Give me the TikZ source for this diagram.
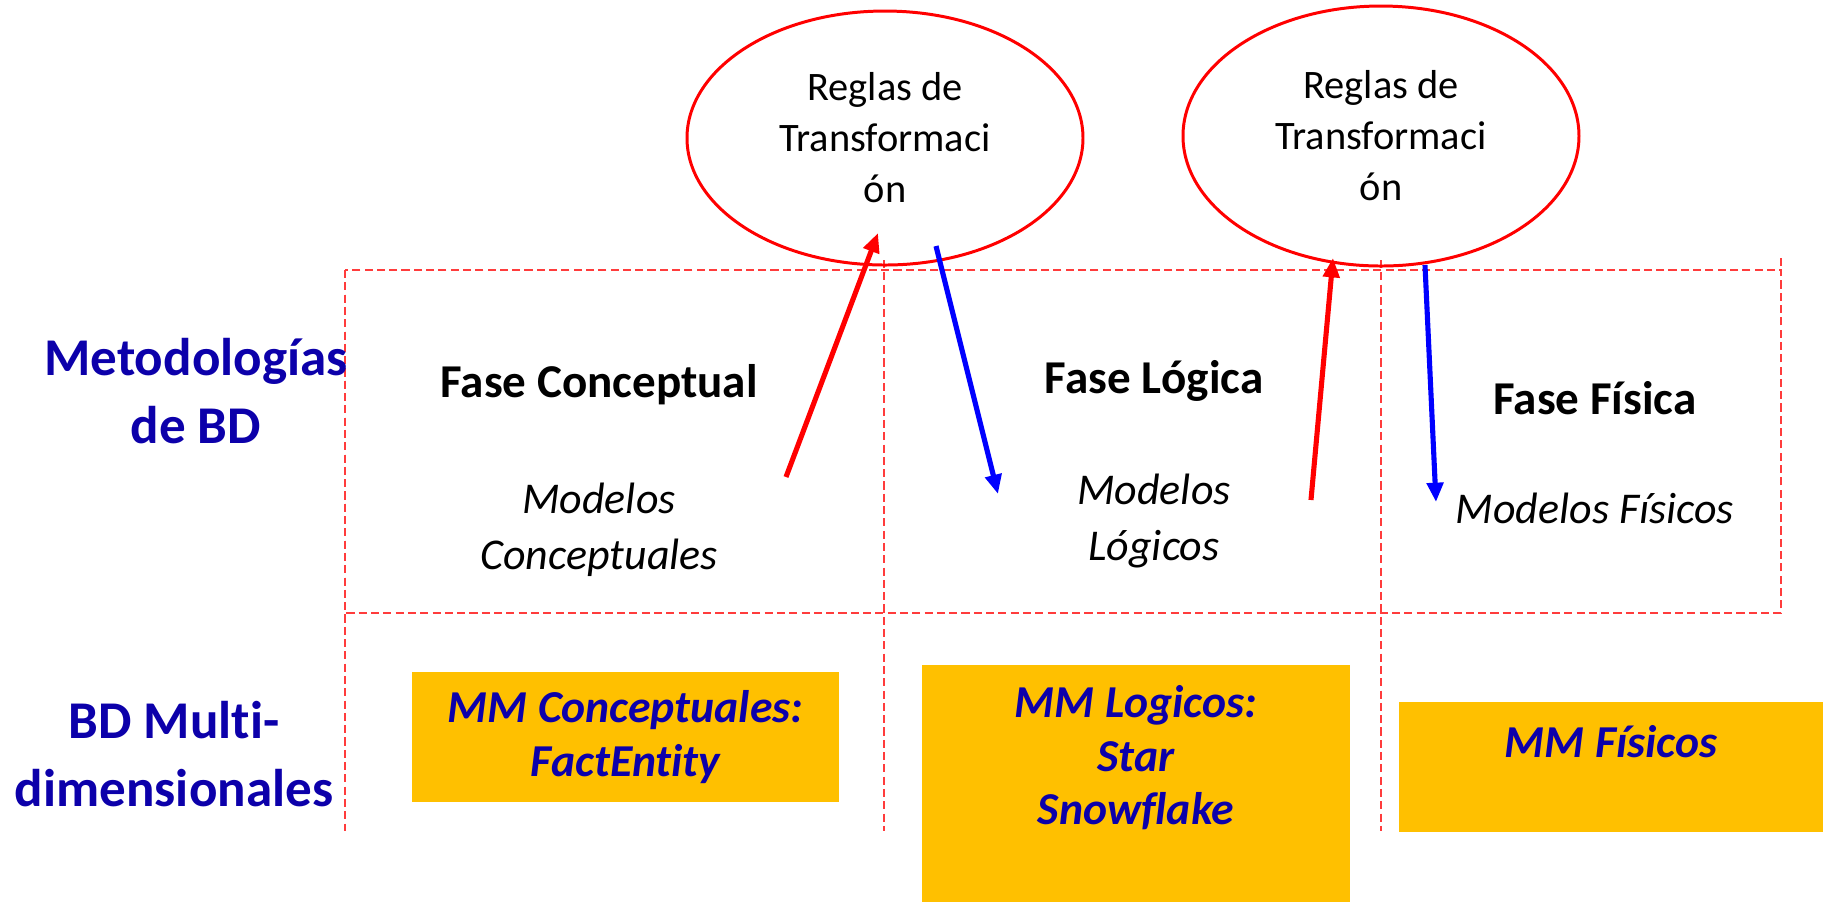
\documentclass[tikz,border=0pt]{standalone}
\usepackage{fontspec}
\setmainfont{Carlito}[Ligatures=NoCommon]
\usepackage{tikz}
\usetikzlibrary{positioning,arrows.meta,shapes.geometric}
\usepackage{xcolor}
\definecolor{mmyellow}{RGB}{255,192,0}
\definecolor{mmblue}{RGB}{12,0,170}
\definecolor{gridred}{RGB}{255,60,60}

\begin{document}
\begin{tikzpicture}[
  side/.style   = {font=\fontsize{15.1}{19.1}\selectfont\bfseries, text=mmblue,
                   align=center, inner sep=0pt},
  fase/.style   = {font=\fontsize{13.4}{16}\selectfont\bfseries, inner sep=0pt},
  mdl/.style    = {font=\fontsize{12.5}{15.9}\selectfont\itshape, align=center,
                   inner sep=0pt},
  regla/.style  = {ellipse, draw=red, line width=0.85pt, minimum width=39.6mm,
                   minimum height=25.4mm, align=center, inner sep=0pt,
                   font=\fontsize{11.5}{14.5}\selectfont},
  mmbox/.style  = {fill=mmyellow, inner sep=0pt},
  mmtxt/.style  = {font=\fontsize{13}{15.2}\selectfont\bfseries\itshape,
                   text=mmblue, align=center, inner sep=0pt},
  dashgrid/.style = {draw=gridred, line width=0.35pt, dash pattern=on 2.3pt off 1.2pt},
  uparr/.style  = {-{Triangle[length=5.5pt,width=4.6pt]}, line width=1.45pt, draw=red},
  dnarr/.style  = {-{Triangle[length=5.5pt,width=4.6pt]}, line width=1.45pt, draw=blue},
]
\useasboundingbox (0,0) rectangle (182.3mm,-90.2mm);

% ======================= dashed frame ==================================
\draw[dashgrid] (34.5mm,-27mm) rectangle (178.1mm,-61.3mm);
\draw[dashgrid] (34.5mm,-27mm)   -- (34.5mm,-83.1mm);
\draw[dashgrid] (88.4mm,-26mm)   -- (88.4mm,-83.1mm);
\draw[dashgrid] (138.1mm,-26mm)  -- (138.1mm,-83.1mm);
\draw[dashgrid] (178.1mm,-25.8mm) -- (178.1mm,-27mm);

% ======================= row labels ====================================
\node[side] (metod) at (19.6mm,-39.1mm) {Metodologías\\de BD};
\node[side] (bdmul) at (17.4mm,-75.4mm) {BD Multi-\\dimensionales};

% ======================= phases ========================================
\node[fase] (fcon) at (59.9mm,-38.5mm)  {Fase Conceptual};
\node[fase] (flog) at (115.4mm,-38.1mm) {Fase Lógica};
\node[fase] (ffis) at (159.5mm,-39.8mm) {Fase Física};

\node[mdl] (mcon) at (59.9mm,-53mm)   {Modelos\\Conceptuales};
\node[mdl] (mlog) at (115.4mm,-52.1mm) {Modelos\\Lógicos};
\node[mdl] (mfis) at (159.5mm,-50.8mm) {Modelos Físicos};

% ======================= transformation rules ==========================
\node[regla] (regla1) at (88.5mm,-13.8mm)  {Reglas de\\Transformaci\\ón};
\node[regla, minimum height=26mm] (regla2) at (138.1mm,-13.6mm)
  {Reglas de\\Transformaci\\ón};

\coordinate (r1a) at (78.6mm,-47.7mm);  \coordinate (r1b) at (87.8mm,-23.3mm);
\coordinate (b1a) at (93.6mm,-24.6mm);  \coordinate (b1b) at (99.8mm,-49.4mm);
\coordinate (r2a) at (131.1mm,-50mm);   \coordinate (r2b) at (133.3mm,-25.8mm);
\coordinate (b2a) at (142.5mm,-26.5mm); \coordinate (b2b) at (143.6mm,-50.2mm);

\draw[uparr] (r1a) -- (r1b);
\draw[dnarr] (b1a) -- (b1b);
\draw[uparr] (r2a) -- (r2b);
\draw[dnarr] (b2a) -- (b2b);

% ======================= multidimensional models =======================
\node[mmbox, minimum width=42.7mm, minimum height=13mm]   (mmcon) at (62.55mm,-73.7mm) {};
\node[mmbox, minimum width=42.8mm, minimum height=23.7mm] (mmlog) at (113.6mm,-78.35mm) {};
\node[mmbox, minimum width=42.4mm, minimum height=13mm]   (mmfis) at (161.1mm,-76.7mm) {};

\node[mmtxt] (tcon) at (mmcon.center) {MM Conceptuales:\\FactEntity};
\node[mmtxt] (tlog) at (113.6mm,-75.8mm) {MM Logicos:\\Star\\Snowflake};
\node[mmtxt] (tfis) at (161.1mm,-74.2mm) {MM Físicos};

\end{tikzpicture}
\end{document}
